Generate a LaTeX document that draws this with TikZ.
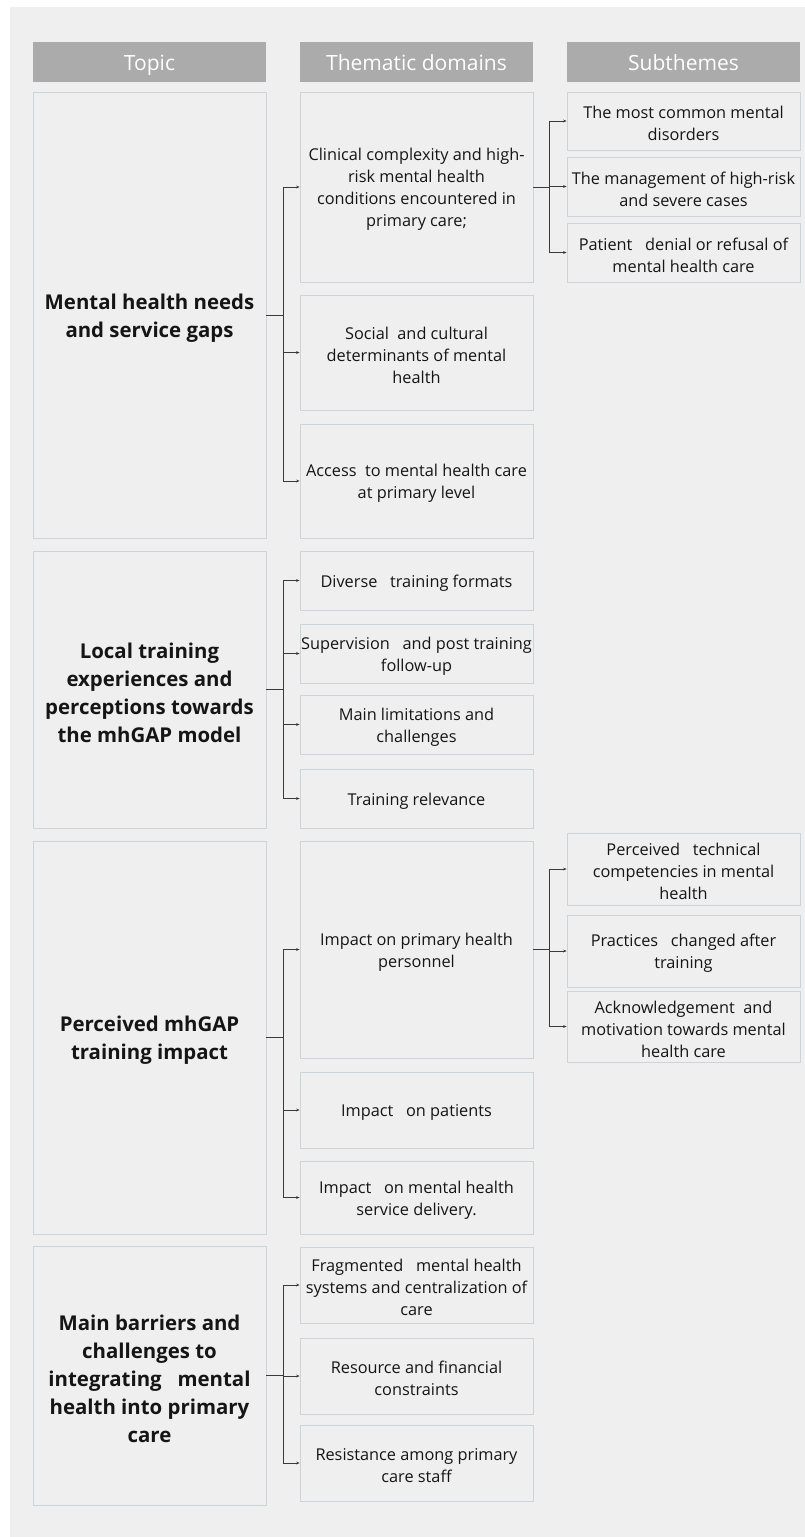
\documentclass[tikz,border=0pt]{standalone}
\usepackage{fontspec}
\setmainfont{Open Sans}
\usetikzlibrary{arrows.meta}
\definecolor{panel}{HTML}{EFEFEF}
\definecolor{headgray}{HTML}{ABABAB}
\definecolor{boxline}{HTML}{C9D5D9}
\definecolor{linecol}{HTML}{3A3A3A}
\definecolor{txt}{HTML}{151515}
\tikzset{
  hdr/.style={fill=headgray, draw=none, minimum width=233pt, minimum height=40pt, inner sep=0pt,
    text=white, font=\fontsize{21}{25}\selectfont, text height=18pt, text depth=1pt},
  frame/.style={draw=boxline, line width=0.8pt, fill=panel, minimum width=233pt, inner sep=0pt},
  ttx/.style={align=center, inner sep=0pt, text=txt, yshift=-3pt, font=\fontsize{20.4}{28}\selectfont\bfseries},
  dtx/.style={align=center, inner sep=0pt, text=txt, yshift=-2.5pt, font=\fontsize{16.3}{22}\selectfont},
  conn/.style={draw=linecol, line width=0.6pt, -{Stealth[length=3.5pt,width=2.8pt]}}
}
\begin{document}
\begin{tikzpicture}[x=1pt,y=-1pt]
\useasboundingbox (0,0) rectangle (805,1537);
\fill[white] (0,0) rectangle (805,1537);
\fill[panel] (10,7) rectangle (805,1537);
% headers
\node[hdr] (h1) at (149.5,62) {Topic};
\node[hdr] (h2) at (416.5,62) {Thematic domains};
\node[hdr] (h3) at (683.5,62) {Subthemes};
% topics
\node[frame, minimum height=446pt, label={[ttx]center:{Mental health needs\\and service gaps}}] (t1) at (149.5,315) {};
\node[frame, minimum height=277pt, label={[ttx]center:{Local training\\experiences and\\perceptions towards\\the mhGAP model}}] (t2) at (149.5,689.5) {};
\node[frame, minimum height=393pt, label={[ttx]center:{Perceived mhGAP\\training impact}}] (t3) at (149.5,1037.5) {};
\node[frame, minimum height=259pt, label={[ttx]center:{Main barriers and\\challenges to\\integrating~~~mental\\health into primary\\care}}] (t4) at (149.5,1375.5) {};
% domains
\node[frame, minimum height=190pt, label={[dtx]center:{Clinical complexity and high-\\risk mental health\\conditions encountered in\\primary care;}}] (d1) at (416.5,187) {};
\node[frame, minimum height=115pt, label={[dtx]center:{Social~~and cultural\\determinants of mental\\health}}] (d2) at (416.5,352.5) {};
\node[frame, minimum height=114pt, label={[dtx]center:{Access~~to mental health care\\at primary level}}] (d3) at (416.5,481) {};
\node[frame, minimum height=59pt, label={[dtx]center:{Diverse~~~training formats}}] (d4) at (416.5,580.5) {};
\node[frame, minimum height=59pt, label={[dtx]center:{Supervision~~~and post training\\follow-up}}] (d5) at (416.5,653.5) {};
\node[frame, minimum height=59pt, label={[dtx]center:{Main limitations and\\challenges}}] (d6) at (416.5,724.5) {};
\node[frame, minimum height=59pt, label={[dtx]center:{Training relevance}}] (d7) at (416.5,798.5) {};
\node[frame, minimum height=217pt, label={[dtx]center:{Impact on primary health\\personnel}}] (d8) at (416.5,949.5) {};
\node[frame, minimum height=76pt, label={[dtx]center:{Impact~~~on patients}}] (d9) at (416.5,1110) {};
\node[frame, minimum height=73pt, label={[dtx]center:{Impact~~~on mental health\\service delivery.}}] (d10) at (416.5,1197.5) {};
\node[frame, minimum height=76pt, label={[dtx]center:{Fragmented~~~mental health\\systems and centralization of\\care}}] (d11) at (416.5,1285) {};
\node[frame, minimum height=76pt, label={[dtx]center:{Resource and financial\\constraints}}] (d12) at (416.5,1376) {};
\node[frame, minimum height=76pt, label={[dtx]center:{Resistance among primary\\care staff}}] (d13) at (416.5,1463) {};
% subthemes
\node[frame, minimum height=58pt, label={[dtx]center:{The most common mental\\disorders}}] (s1) at (683.5,121) {};
\node[frame, minimum height=59pt, label={[dtx]center:{The management of high-risk\\and severe cases}}] (s2) at (683.5,186.5) {};
\node[frame, minimum height=59pt, label={[dtx]center:{Patient~~~denial or refusal of\\mental health care}}] (s3) at (683.5,252.5) {};
\node[frame, minimum height=72pt, label={[dtx]center:{Perceived~~~technical\\competencies in mental\\health}}] (s4) at (683.5,869) {};
\node[frame, minimum height=72pt, label={[dtx]center:{Practices~~~changed after\\training}}] (s5) at (683.5,951) {};
\node[frame, minimum height=71pt, label={[dtx]center:{Acknowledgement~~and\\motivation towards mental\\health care}}] (s6) at (683.5,1026.5) {};
% connectors topic -> domains
\foreach \c in {d1,d2,d3} \draw[conn] (t1.east) -- ++(17,0) |- (\c.west);
\foreach \c in {d4,d5,d6,d7} \draw[conn] (t2.east) -- ++(17,0) |- (\c.west);
\foreach \c in {d8,d9,d10} \draw[conn] (t3.east) -- ++(17,0) |- (\c.west);
\foreach \c in {d11,d12,d13} \draw[conn] (t4.east) -- ++(17,0) |- (\c.west);
% connectors domain -> subthemes
\foreach \c in {s1,s2,s3} \draw[conn] (d1.east) -- ++(16,0) |- (\c.west);
\foreach \c in {s4,s5,s6} \draw[conn] (d8.east) -- ++(16,0) |- (\c.west);
\end{tikzpicture}
\end{document}
